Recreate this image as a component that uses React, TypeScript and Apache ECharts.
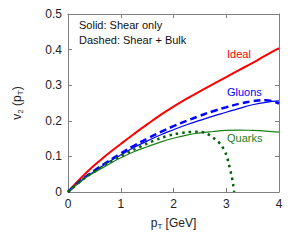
import React, { useEffect, useRef } from "react";
import * as echarts from "echarts";

const ptGrid = [0, 0.25, 0.5, 0.75, 1, 1.25, 1.5, 1.75, 2, 2.25, 2.5, 2.75, 3, 3.25, 3.5, 3.75, 4];
const idealV2 = [0, 0.04, 0.075, 0.106, 0.135, 0.163, 0.19, 0.216, 0.24, 0.262, 0.283, 0.303, 0.323, 0.343, 0.363, 0.384, 0.404];
const gluonsShear = [0, 0.032, 0.058, 0.082, 0.104, 0.125, 0.143, 0.16, 0.175, 0.189, 0.201, 0.213, 0.224, 0.235, 0.245, 0.252, 0.256];
const gluonsBulk = [0, 0.033, 0.06, 0.085, 0.108, 0.13, 0.15, 0.168, 0.185, 0.2, 0.214, 0.227, 0.238, 0.248, 0.255, 0.258, 0.248];
const quarksShear = [0, 0.031, 0.055, 0.076, 0.096, 0.113, 0.127, 0.14, 0.151, 0.16, 0.166, 0.17, 0.173, 0.174, 0.173, 0.171, 0.168];
const quarksBulkPt = [0, 0.25, 0.5, 0.75, 1, 1.25, 1.5, 1.75, 2, 2.25, 2.5, 2.6, 2.7, 2.8, 2.9, 3.0, 3.05, 3.1, 3.13, 3.15];
const quarksBulk = [0, 0.032, 0.058, 0.081, 0.101, 0.119, 0.136, 0.151, 0.162, 0.168, 0.169, 0.166, 0.158, 0.147, 0.133, 0.105, 0.078, 0.046, 0.022, 0];

const xTicks = [0, 1, 2, 3, 4];
const yTicks = [0, 0.1, 0.2, 0.3, 0.4, 0.5];

const pairs = (xs: number[], ys: number[]) => xs.map((x, i) => [x, ys[i]]);

const RED = "#ff0000";
const BLUE = "#0000ff";
const GREEN = "#1a801a";
const DKGREEN = "#006400";
const FONT = "Liberation Sans, Arial, sans-serif";

export default function App() {
  const ref = useRef<HTMLDivElement>(null);
  useEffect(() => {
    if (!ref.current) return;
    const chart = echarts.init(ref.current, null, { renderer: "svg" });
    const axisLine = { show: true, lineStyle: { color: "#808080", width: 1 } };
    const tick = { show: true, inside: true, length: 4, lineStyle: { color: "#808080" } };
    chart.setOption({
      animation: false,
      backgroundColor: "#ffffff",
      grid: { left: 68, right: 17, top: 14, bottom: 48 },
      xAxis: [
        {
          type: "value",
          min: 0,
          max: 4,
          interval: 1,
          axisLine: { ...axisLine, onZero: false },
          axisTick: tick,
          splitLine: { show: false },
          axisLabel: {
            color: "#222",
            fontSize: 12,
            fontFamily: FONT,
            margin: 6,
            formatter: (v: number) => (xTicks.includes(v) ? String(v) : ""),
          },
          name: "{a|p}{s|T}{a| [GeV]}",
          nameLocation: "middle",
          nameGap: 24,
          nameTextStyle: {
            color: "#222",
            fontFamily: FONT,
            rich: {
              a: { fontSize: 12, fontFamily: FONT, color: "#222" },
              s: { fontSize: 8, fontFamily: FONT, color: "#222", padding: [6, 0, 0, 0] },
            },
          },
        },
        {
          type: "value",
          position: "top",
          min: 0,
          max: 4,
          interval: 1,
          axisLine: { ...axisLine, onZero: false },
          axisTick: tick,
          axisLabel: { show: false },
          splitLine: { show: false },
        },
      ],
      yAxis: [
        {
          type: "value",
          min: 0,
          max: 0.5,
          interval: 0.1,
          axisLine: { ...axisLine, onZero: false },
          axisTick: tick,
          splitLine: { show: false },
          axisLabel: {
            color: "#222",
            fontSize: 12,
            fontFamily: FONT,
            margin: 6,
            formatter: (v: number) => {
              const t = yTicks.find((y) => Math.abs(y - v) < 1e-6);
              return t === undefined ? "" : t === 0 ? "0" : t.toFixed(1);
            },
          },
          name: "{a|v}{s|2}{a| (p}{s|T}{a|)}",
          nameLocation: "middle",
          nameGap: 44,
          nameRotate: 90,
          nameTextStyle: {
            color: "#222",
            fontFamily: FONT,
            rich: {
              a: { fontSize: 12, fontFamily: FONT, color: "#222" },
              s: { fontSize: 8, fontFamily: FONT, color: "#222", padding: [6, 0, 0, 0] },
            },
          },
        },
        {
          type: "value",
          position: "right",
          min: 0,
          max: 0.5,
          interval: 0.1,
          axisLine: { ...axisLine, onZero: false },
          axisTick: tick,
          axisLabel: { show: false },
          splitLine: { show: false },
        },
      ],
      series: [
        {
          type: "line",
          data: pairs(ptGrid, idealV2),
          smooth: true,
          showSymbol: false,
          lineStyle: { color: RED, width: 2 },
        },
        {
          type: "line",
          data: pairs(ptGrid, gluonsShear),
          smooth: true,
          showSymbol: false,
          lineStyle: { color: BLUE, width: 1.2 },
        },
        {
          type: "line",
          data: pairs(ptGrid, gluonsBulk),
          smooth: true,
          showSymbol: false,
          lineStyle: { color: BLUE, width: 2.5, type: [7, 4] },
        },
        {
          type: "line",
          data: pairs(ptGrid, quarksShear),
          smooth: true,
          showSymbol: false,
          lineStyle: { color: GREEN, width: 1.2 },
        },
        {
          type: "line",
          data: pairs(quarksBulkPt, quarksBulk),
          smooth: 0.3,
          showSymbol: false,
          lineStyle: { color: DKGREEN, width: 2.5, type: [2.5, 4] },
        },
      ],
      graphic: [
        { type: "text", left: 79, top: 19, style: { text: "Solid: Shear only", fontSize: 11, fontFamily: FONT, fill: "#111" } },
        { type: "text", left: 79, top: 34, style: { text: "Dashed: Shear + Bulk", fontSize: 11, fontFamily: FONT, fill: "#111" } },
        { type: "text", left: 227, top: 48, style: { text: "Ideal", fontSize: 11, fontFamily: FONT, fill: RED } },
        { type: "text", left: 227, top: 86, style: { text: "Gluons", fontSize: 11, fontFamily: FONT, fill: BLUE } },
        { type: "text", left: 227, top: 132, style: { text: "Quarks", fontSize: 11, fontFamily: FONT, fill: GREEN } },
      ],
    });
    return () => chart.dispose();
  }, []);
  return <div ref={ref} style={{ width: 296, height: 240, position: "absolute", left: 0, top: 0 }} />;
}
